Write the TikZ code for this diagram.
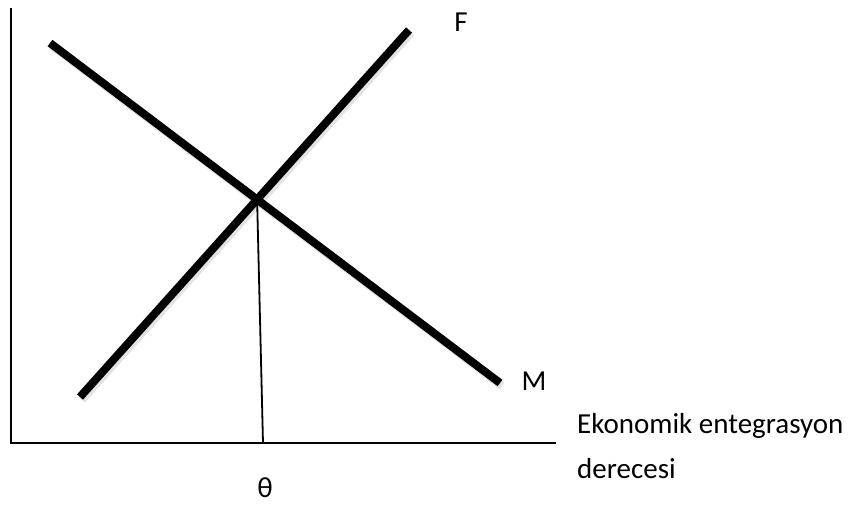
\documentclass[tikz,border=0pt]{standalone}
\usepackage{fontspec}
\setmainfont{Carlito}
\begin{document}
\begin{tikzpicture}[x=1pt,y=-1pt,
  axis/.style={line width=2.6pt},
  curve/.style={line width=8pt},
  shadowline/.style={line width=8pt,black!18,opacity=0.6},
  drop/.style={line width=1.8pt},
  lbl/.style={font=\fontsize{29}{34}\selectfont,inner sep=0pt}]
\useasboundingbox (0,0) rectangle (854,506);
\coordinate (ytop) at (11,8);
\coordinate (orig) at (11,443);
\coordinate (xend) at (556,443);
\coordinate (f1) at (80,397);
\coordinate (f2) at (409,30);
\coordinate (m1) at (50,43);
\coordinate (m2) at (500,383);
\coordinate (eq) at (intersection of f1--f2 and m1--m2);
\coordinate (foot) at (263,443);
% soft shadows
\draw[shadowline] ([shift={(2,3)}]f1) -- ([shift={(2,3)}]f2);
\draw[shadowline] ([shift={(2,3)}]m1) -- ([shift={(2,3)}]m2);
% axes
\draw[axis] (ytop) -- (orig) -- (xend);
% lines
\draw[curve] (f1) -- (f2);
\draw[curve] (m1) -- (m2);
\draw[drop] (eq) -- (foot);
% labels
\node[lbl] (F) at (461,22) {F};
\node[lbl] (M) at (534,381) {M};
\node[lbl] (theta) at (265,488) {θ};
\node[lbl,anchor=west] (x1) at (577,426) {Ekonomik entegrasyon};
\node[lbl,anchor=west] (x2) at (577,469) {derecesi};
\end{tikzpicture}
\end{document}
